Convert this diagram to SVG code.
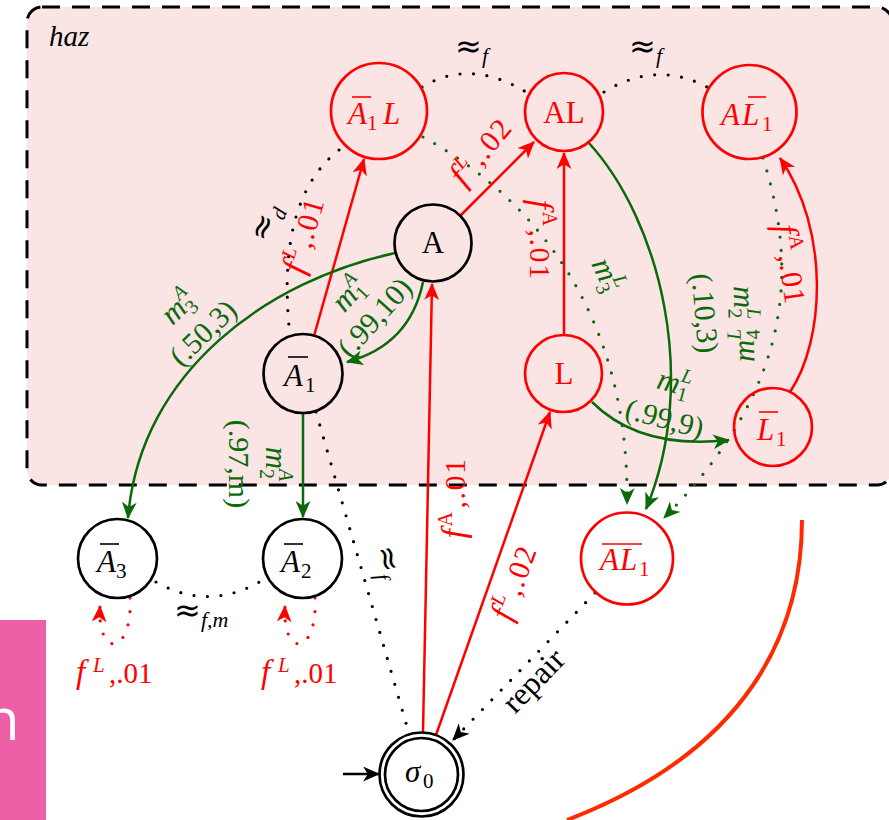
<svg xmlns="http://www.w3.org/2000/svg" width="889" height="820" viewBox="0 0 889 820">
<defs>
<style>
text{font-family:"Liberation Serif","DejaVu Serif",serif}
.i{font-style:italic}
.ap{font-family:"DejaVu Sans","DejaVu Serif",sans-serif;font-size:32px}
.nl{font-size:31px}
.sub{font-size:21px}
.el{font-size:30px}
.fl{font-size:30px;letter-spacing:1.5px}
.sm{font-size:20px}
.ff{font-size:34px}
.mm{font-size:31px}
.n{fill:none;stroke-width:2.7}
.rs{stroke:#ff0000}
.bs{stroke:#000}
.gs{stroke:#0a6a0a}
.rf{fill:#ff0000}
.bf{fill:#000}
.gf{fill:#0a6a0a}
.bar{stroke-width:1.6}
.e{fill:none;stroke-width:2.5}
.dot{fill:none;stroke-width:3.2;stroke-linecap:round;stroke-dasharray:0 13.5}
</style>
<marker id="ar" viewBox="0 0 16 14" refX="15" refY="7" markerWidth="17" markerHeight="15" markerUnits="userSpaceOnUse" orient="auto"><path d="M0,0 L16,7 L0,14 L4.5,7 z" fill="#ff0000"/></marker>
<marker id="ag" viewBox="0 0 16 14" refX="15" refY="7" markerWidth="17" markerHeight="15" markerUnits="userSpaceOnUse" orient="auto"><path d="M0,0 L16,7 L0,14 L4.5,7 z" fill="#0a6a0a"/></marker>
<marker id="ab" viewBox="0 0 16 14" refX="15" refY="7" markerWidth="17" markerHeight="15" markerUnits="userSpaceOnUse" orient="auto"><path d="M0,0 L16,7 L0,14 L4.5,7 z" fill="#000"/></marker>
</defs>
<rect width="889" height="820" fill="#fff"/>
<rect id="haz-region" x="27" y="7" width="865" height="478" rx="15" fill="#fae4e4" stroke="#000" stroke-width="3" stroke-dasharray="18 12"/>
<text x="49" y="46" class="i" font-size="29">haz</text>
<rect x="0" y="620" width="46" height="200" fill="#ed5fa7"/>
<text x="-16" y="740" style="font-family:'Open Sans',sans-serif;font-size:58px" fill="#fff">n</text>
<path d="M 802 520 C 802 630 750 750 567 820" fill="none" stroke="#ff2a00" stroke-width="4"/>

<g id="edges">
<line class="e rs" x1="314" y1="336" x2="364" y2="159" marker-end="url(#ar)"/>
<line class="e rs" x1="460" y1="216" x2="534" y2="142" marker-end="url(#ar)"/>
<line class="e rs" x1="564" y1="334" x2="564" y2="153" marker-end="url(#ar)"/>
<line class="e rs" x1="423" y1="732" x2="432" y2="284" marker-end="url(#ar)"/>
<line class="e rs" x1="436" y1="735" x2="550" y2="412" marker-end="url(#ar)"/>
<path class="e rs" d="M 790 392 C 825 340 830 230 780 158" marker-end="url(#ar)"/>
<path class="e gs" d="M 395 253 C 270 280 140 370 128 518" marker-end="url(#ag)"/>
<path class="e gs" d="M 423 282 Q 410 345 347 362" marker-end="url(#ag)"/>
<line class="e gs" x1="303" y1="413" x2="303" y2="517" marker-end="url(#ag)"/>
<path class="e gs" d="M 588 142 C 660 220 700 380 646 509" marker-end="url(#ag)"/>
<path class="e gs" d="M 592 402 Q 640 450 729 440" marker-end="url(#ag)"/>
<path class="dot gs" d="M 423 137 C 520 190 630 300 627 504" marker-end="url(#ag)"/>
<path class="dot gs" d="M 763 158 C 795 260 800 380 664 518" marker-end="url(#ag)"/>
<path class="dot bs" d="M 422 87 Q 470 58 526 92"/>
<path class="dot bs" d="M 604 92 Q 656 60 707 87"/>
<path class="dot bs" d="M 339 150 Q 275 200 290 336"/>
<path class="dot bs" d="M 316 412 L 408 730"/>
<path class="dot bs" d="M 156 582 Q 211 613 266 578"/>
<path class="dot bs" d="M 595 593 L 453 740" marker-end="url(#ab)"/>
<path class="dot rs" d="M 130 598 C 133 655 97 660 100 606" marker-end="url(#ar)"/>
<path class="dot rs" d="M 315 598 C 318 655 282 660 285 606" marker-end="url(#ar)"/>
<line class="e bs" x1="343" y1="774" x2="379" y2="774" marker-end="url(#ab)"/>
</g>

<g id="labels">
<text x="455" y="57" class="ap">≈</text><text x="482" y="63" class="i" font-size="22">f</text>
<text x="629" y="57" class="ap">≈</text><text x="656" y="63" class="i" font-size="22">f</text>
<text x="174" y="621" class="ap">≈</text><text x="201" y="627" class="i" font-size="22">f,m</text>
<g transform="translate(274,226) rotate(-68)"><text text-anchor="middle"><tspan class="ap">≈</tspan><tspan class="i" font-size="21" dy="7">d</tspan></text></g>
<g transform="translate(379,564) rotate(76)"><text text-anchor="middle"><tspan class="ap">≈</tspan><tspan class="i" font-size="21" dy="7">f</tspan></text></g>
<g transform="translate(541,688) rotate(-46)"><text text-anchor="middle" font-size="32">repair</text></g>

<g class="rf">
<g transform="translate(314,238) rotate(-74)"><text text-anchor="middle" class="fl"><tspan class="i ff">f</tspan><tspan class="i sm" dx="1" dy="-13">L</tspan><tspan dy="13" dx="2">,.01</tspan></text></g>
<g transform="translate(489,158) rotate(-50)"><text text-anchor="middle" class="fl"><tspan class="i ff">f</tspan><tspan class="i sm" dx="1" dy="-13">L</tspan><tspan dy="13" dx="2">,.02</tspan></text></g>
<g transform="translate(530,240) rotate(90)"><text text-anchor="middle" class="fl"><tspan class="i ff">f</tspan><tspan class="sm" dx="1" dy="-13">A</tspan><tspan dy="13" dx="2">,.01</tspan></text></g>
<g transform="translate(465,498) rotate(-90)"><text text-anchor="middle" class="fl"><tspan class="i ff">f</tspan><tspan class="sm" dx="1" dy="-13">A</tspan><tspan dy="13" dx="2">,.01</tspan></text></g>
<g transform="translate(524,586) rotate(-70)"><text text-anchor="middle" class="fl"><tspan class="i ff">f</tspan><tspan class="i sm" dx="1" dy="-13">L</tspan><tspan dy="13" dx="2">,.02</tspan></text></g>
<g transform="translate(780,266) rotate(82)"><text text-anchor="middle" class="fl"><tspan class="i ff">f</tspan><tspan class="sm" dx="1" dy="-13">A</tspan><tspan dy="13" dx="2">,.01</tspan></text></g>
<text x="76" y="683" class="i" font-size="33">f</text><text x="93" y="672" class="i" font-size="21">L</text><text x="109" y="683" font-size="29">,.01</text>
<text x="261" y="683" class="i" font-size="33">f</text><text x="278" y="672" class="i" font-size="21">L</text><text x="294" y="683" font-size="29">,.01</text>
</g>

<g class="gf">
<g transform="translate(382,324) rotate(-48)"><text text-anchor="middle" y="-35" class="el"><tspan class="i mm">m</tspan><tspan class="sm" dy="6">1</tspan><tspan class="i sm" dx="-10" dy="-19">A</tspan></text><text text-anchor="middle" class="el">(.99,10)</text></g>
<g transform="translate(210,340) rotate(-44)"><text text-anchor="middle" y="-36" class="el"><tspan class="i mm">m</tspan><tspan class="sm" dy="6">3</tspan><tspan class="i sm" dx="-10" dy="-19">A</tspan></text><text text-anchor="middle" class="el">(.50,3)</text></g>
<g transform="translate(229,464) rotate(90)"><text text-anchor="middle" y="-37" class="el"><tspan class="i mm">m</tspan><tspan class="sm" dy="6">2</tspan><tspan class="i sm" dx="-10" dy="-19">A</tspan></text><text text-anchor="middle" class="el">(.97,m)</text></g>
<g transform="translate(695,314) rotate(85)"><text text-anchor="middle" class="el">(.10,3)</text></g>
<g transform="translate(734,303) rotate(88)"><text text-anchor="middle" class="el"><tspan class="i mm">m</tspan><tspan class="sm" dy="6">2</tspan><tspan class="i sm" dx="-10" dy="-19">L</tspan></text></g>
<g transform="translate(754,345) rotate(-92)"><text text-anchor="middle" class="el"><tspan class="i mm">m</tspan><tspan class="sm" dy="6">4</tspan><tspan class="i sm" dx="-10" dy="-19">L</tspan></text></g>
<g transform="translate(598,279) rotate(65)"><text text-anchor="middle" class="el"><tspan class="i mm">m</tspan><tspan class="sm" dy="6">3</tspan><tspan class="i sm" dx="-10" dy="-19">L</tspan></text></g>
<g transform="translate(662,428) rotate(15)"><text text-anchor="middle" y="-37" class="el"><tspan class="i mm">m</tspan><tspan class="sm" dy="6">1</tspan><tspan class="i sm" dx="-10" dy="-19">L</tspan></text><text text-anchor="middle" class="el">(.99,9)</text></g>
</g>
</g>

<g id="n-A1L"><circle class="n rs" cx="379" cy="111" r="48"/><text x="348" y="124" class="nl i rf">A</text><line class="bar rs" x1="352" y1="97" x2="371" y2="97"/><text x="367" y="130" class="sub rf">1</text><text x="383" y="124" class="nl i rf">L</text></g>
<g id="n-AL"><circle class="n rs" cx="564" cy="112" r="39"/><text x="564" y="123" text-anchor="middle" class="nl rf">AL</text></g>
<g id="n-AL1"><circle class="n rs" cx="749.5" cy="112" r="47"/><text x="721" y="125" class="nl i rf">A</text><text x="742" y="125" class="nl i rf">L</text><line class="bar rs" x1="748" y1="97" x2="766" y2="97"/><text x="762" y="131" class="sub rf">1</text></g>
<g id="n-A"><circle class="n bs" cx="433" cy="243" r="38.5"/><text x="433" y="253" text-anchor="middle" class="nl bf">A</text></g>
<g id="n-A1"><circle class="n bs" cx="303" cy="373.5" r="39.5"/><text x="284" y="386" class="nl i bf">A</text><line class="bar bs" x1="288" y1="357" x2="308" y2="357"/><text x="305" y="392" class="sub bf">1</text></g>
<g id="n-L"><circle class="n rs" cx="563.5" cy="373.5" r="38.5"/><text x="564" y="384" text-anchor="middle" class="nl rf">L</text></g>
<g id="n-L1"><circle class="n rs" cx="773" cy="427" r="39"/><text x="757" y="440" class="nl i rf">L</text><line class="bar rs" x1="759" y1="412" x2="778" y2="412"/><text x="776" y="446" class="sub rf">1</text></g>
<g id="n-A3"><circle class="n bs" cx="117.5" cy="558.5" r="39.5"/><text x="97" y="572" class="nl i bf">A</text><line class="bar bs" x1="100" y1="544" x2="119" y2="544"/><text x="116" y="578" class="sub bf">3</text></g>
<g id="n-A2"><circle class="n bs" cx="302.5" cy="558.5" r="39.5"/><text x="281" y="572" class="nl i bf">A</text><line class="bar bs" x1="284" y1="544" x2="303" y2="544"/><text x="301" y="578" class="sub bf">2</text></g>
<g id="n-AL1b"><circle class="n rs" cx="627" cy="558.5" r="46"/><text x="600" y="570" class="nl i rf">A</text><text x="620" y="570" class="nl i rf">L</text><line class="bar rs" x1="602" y1="544" x2="642" y2="544"/><text x="639" y="576" class="sub rf">1</text></g>
<g id="n-s0"><circle class="n bs" cx="421.5" cy="774.5" r="42"/><circle class="n bs" cx="421.5" cy="774.5" r="36.5"/><text x="405" y="782" class="nl i bf">σ</text><text x="423" y="788" class="sub bf">0</text></g>
</svg>
